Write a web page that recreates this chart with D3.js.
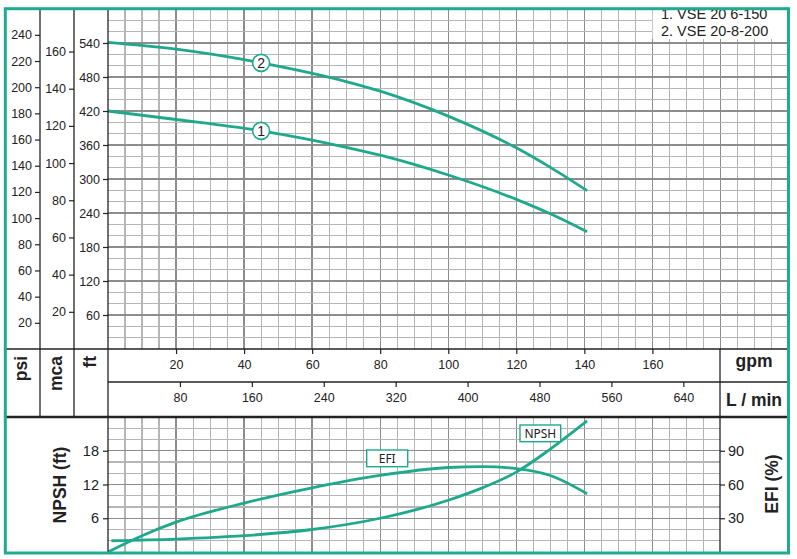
<!DOCTYPE html>
<meta charset="utf-8">
<style>
  body { margin: 0; background: #fff; }
  svg text { font-family: "Liberation Sans", Arial, sans-serif; fill: #222; }
  .axis path { display: none; }
  .axis line { stroke: #222; stroke-width: 1.2; }
  .col-line { stroke: #222; stroke-width: 1.3; }
  .grid-minor { stroke: #b5b5b5; stroke-width: 1.1; shape-rendering: crispEdges; }
  .grid-major { stroke: #8d8d8d; stroke-width: 1.4; shape-rendering: crispEdges; }
  .curve { fill: none; stroke: #1fa98c; stroke-width: 2.8; }
  .unit { font-weight: bold; font-size: 17.5px; }
  .tag text { font-family: "Noto Sans", sans-serif; font-size: 12px; }
</style>

<div class="chart"></div>

<script src="https://cdn.jsdelivr.net/npm/d3@7"></script>

<script>
    // head curves (gpm -> ft)
    var headFlow = [0, 20, 45, 70, 80, 100, 120, 130, 140.8];
    var head1 = [420, 405, 385, 356, 342, 307, 264, 238.5, 207];
    var head2 = [541, 529, 505, 472, 455, 411, 355, 320.5, 279.5];

    // efficiency (%) and NPSH (ft)
    var efiFlow = [0, 10, 20, 40, 60, 80, 100, 110, 120, 130, 140.8];
    var efiValues = [0, 14.5, 26.5, 43.5, 57.1, 68.1, 75.1, 75.9, 74.2, 68, 51.8];
    var npshFlow = [1, 20, 40, 60, 80, 100, 110, 120, 130, 140.8];
    var npshValues = [2.0, 2.3, 2.9, 4.0, 6.0, 9.2, 11.4, 14.2, 18.3, 23.3];

    // tick labels
    var psiTicks = [20, 40, 60, 80, 100, 120, 140, 160, 180, 200, 220, 240];
    var mcaTicks = [20, 40, 60, 80, 100, 120, 140, 160];
    var ftTicks = [60, 120, 180, 240, 300, 360, 420, 480, 540];
    var gpmTicks = [20, 40, 60, 80, 100, 120, 140, 160];
    var lpmTicks = [80, 160, 240, 320, 400, 480, 560, 640];
    var npshTicks = [6, 12, 18];
    var efiTicks = [30, 60, 90];
    var models = ["1. VSE 20 6-150", "2. VSE 20-8-200"];

    var width = 797, height = 559;
    var xLeft = 5.3, xRight = 788.5, yTop = 8.7, yBottom = 553;
    var plotX = 108, gpmCol = 720;
    var headBottom = 349, gpmRow = 382, lpmRow = 417, npshBottom = 552;

    var svg = d3.select('.chart')
        .append('svg')
        .attr('width', width)
        .attr('height', height);

    var x = d3.scaleLinear().domain([0, 200]).range([plotX, xRight]);
    var xL = d3.scaleLinear().domain([0, 200 * 3.785]).range([plotX, xRight]);
    var yFt = d3.scaleLinear().domain([0, 600]).range([headBottom, 9]);
    var yPsi = d3.scaleLinear().domain([0, 600 / 2.31]).range([headBottom, 9]);
    var yMca = d3.scaleLinear().domain([0, 600 / 3.281]).range([headBottom, 9]);
    var yNpsh = d3.scaleLinear().domain([0, 24]).range([npshBottom, lpmRow]);
    var yEfi = d3.scaleLinear().domain([0, 120]).range([npshBottom, lpmRow]);

    // grid top
    var grid = svg.append('g');
    d3.range(5, 200, 5).forEach((g) => {
        grid.append('line')
            .attr('class', g % 20 == 0 ? 'grid-major' : 'grid-minor')
            .attr('x1', x(g)).attr('x2', x(g))
            .attr('y1', yTop).attr('y2', headBottom);
    });
    d3.range(20, 600, 20).forEach((f) => {
        grid.append('line')
            .attr('class', f % 60 == 0 ? 'grid-major' : 'grid-minor')
            .attr('x1', plotX).attr('x2', xRight)
            .attr('y1', yFt(f)).attr('y2', yFt(f));
    });
    // grid bottom
    d3.range(5, 180, 5).forEach((g) => {
        grid.append('line')
            .attr('class', g % 20 == 0 ? 'grid-major' : 'grid-minor')
            .attr('x1', x(g)).attr('x2', x(g))
            .attr('y1', lpmRow).attr('y2', npshBottom);
    });
    d3.range(2, 24, 2).forEach((n) => {
        grid.append('line')
            .attr('class', n % 6 == 0 ? 'grid-major' : 'grid-minor')
            .attr('x1', plotX).attr('x2', gpmCol)
            .attr('y1', yNpsh(n)).attr('y2', yNpsh(n));
    });

    // legend box
    svg.append('rect')
        .attr('x', 652.5).attr('y', yTop)
        .attr('width', xRight - 652.5).attr('height', 39 - yTop)
        .attr('fill', '#fff');
    svg.append('g').selectAll('text')
        .data(models)
        .enter().append('text')
        .attr('x', 661)
        .attr('y', (d, i) => 18.5 + i * 17.5)
        .attr('font-size', '14.5px')
        .text((d) => d);

    // curves
    var drawCurve = (xs, ys, yScale) => {
        svg.append('path').attr('class', 'curve')
            .attr('d', d3.line()
                .x((d, i) => x(xs[i]))
                .y((d) => yScale(d))
                .curve(d3.curveMonotoneX)(ys));
    };
    drawCurve(headFlow, head1, yFt);
    drawCurve(headFlow, head2, yFt);
    drawCurve(efiFlow, efiValues, yEfi);
    drawCurve(npshFlow, npshValues, yNpsh);

    // curve markers
    var markers = [{ name: "1", vals: head1 }, { name: "2", vals: head2 }];
    markers.forEach((m) => {
        var g = svg.append('g').attr('transform', 'translate(' + x(headFlow[2]) + ',' + yFt(m.vals[2]) + ')');
        g.append('circle').attr('r', 8.5).attr('fill', '#fff')
            .attr('stroke', '#1fa98c').attr('stroke-width', 1.6);
        g.append('text').attr('text-anchor', 'middle').attr('dy', '0.36em')
            .attr('font-size', '14px').text(m.name);
    });

    var tags = [{ name: "EFI", x: 366.7, y: 450, w: 41 }, { name: "NPSH", x: 520, y: 425, w: 40.7 }];
    tags.forEach((t) => {
        var g = svg.append('g').attr('class', 'tag');
        g.append('rect').attr('x', t.x).attr('y', t.y)
            .attr('width', t.w).attr('height', 16.7)
            .attr('fill', '#fff').attr('stroke', '#1fa98c').attr('stroke-width', 1.4);
        g.append('text').attr('x', t.x + t.w / 2).attr('y', t.y + 12.8)
            .attr('text-anchor', 'middle').text(t.name);
    });

    // left axes
    var leftAxis = (scale, ticks, pos) => {
        svg.append('g')
            .attr('class', 'axis')
            .attr('transform', 'translate(' + pos + ',0)')
            .call(d3.axisLeft(scale).tickValues(ticks).tickSize(5).tickSizeOuter(0).tickPadding(3))
            .selectAll('text')
            .attr('font-size', '12.5px')
            .attr('fill', '#222');
    };
    leftAxis(yPsi, psiTicks, 40);
    leftAxis(yMca, mcaTicks, 74);
    leftAxis(yFt, ftTicks, plotX);

    // flow axes
    svg.append('g')
        .attr('class', 'axis')
        .attr('transform', 'translate(0,' + headBottom + ')')
        .call(d3.axisBottom(x).tickValues(gpmTicks).tickSize(5).tickSizeOuter(0).tickPadding(6))
        .selectAll('text')
        .attr('font-size', '12.5px')
        .attr('fill', '#222');
    svg.append('g')
        .attr('class', 'axis')
        .attr('transform', 'translate(0,' + gpmRow + ')')
        .call(d3.axisBottom(xL).tickValues(lpmTicks).tickSize(5).tickSizeOuter(0).tickPadding(6))
        .selectAll('text')
        .attr('font-size', '12.5px')
        .attr('fill', '#222');

    // bottom axes
    svg.append('g')
        .attr('class', 'axis')
        .attr('transform', 'translate(' + plotX + ',0)')
        .call(d3.axisLeft(yNpsh).tickValues(npshTicks).tickSize(5).tickSizeOuter(0).tickPadding(4))
        .selectAll('text')
        .attr('font-size', '14.5px')
        .attr('fill', '#222');
    svg.append('g')
        .attr('class', 'axis')
        .attr('transform', 'translate(' + gpmCol + ',0)')
        .call(d3.axisRight(yEfi).tickValues(efiTicks).tickSize(5).tickSizeOuter(0).tickPadding(3))
        .selectAll('text')
        .attr('font-size', '14.5px')
        .attr('fill', '#222');

    // table lines
    var lines = [
        [40, yTop, 40, lpmRow], [74, yTop, 74, lpmRow], [plotX, yTop, plotX, npshBottom],
        [gpmCol, headBottom, gpmCol, npshBottom],
        [xLeft, headBottom, xRight, headBottom], [plotX, gpmRow, xRight, gpmRow]
    ];
    lines.forEach((l) => {
        svg.append('line').attr('class', 'col-line')
            .attr('x1', l[0]).attr('y1', l[1]).attr('x2', l[2]).attr('y2', l[3]);
    });
    svg.append('line')
        .attr('x1', xLeft).attr('x2', xRight)
        .attr('y1', lpmRow).attr('y2', lpmRow)
        .attr('stroke', '#222').attr('stroke-width', 2.6);

    // unit labels
    var units = [{ t: "psi", x: 27 }, { t: "mca", x: 61.5 }, { t: "ft", x: 96 }];
    units.forEach((u) => {
        svg.append('text').attr('class', 'unit')
            .attr('transform', 'translate(' + u.x + ',356) rotate(-90)')
            .attr('text-anchor', 'end').text(u.t);
    });
    svg.append('text').attr('class', 'unit')
        .attr('x', 754).attr('y', 367).attr('text-anchor', 'middle').text('gpm');
    svg.append('text').attr('class', 'unit')
        .attr('x', 754).attr('y', 406).attr('text-anchor', 'middle').text('L / min');
    svg.append('text').attr('class', 'unit')
        .attr('transform', 'translate(66,485) rotate(-90)')
        .attr('text-anchor', 'middle').text('NPSH (ft)');
    svg.append('text').attr('class', 'unit')
        .attr('transform', 'translate(778,484) rotate(-90)')
        .attr('text-anchor', 'middle').text('EFI (%)');

    // frame
    svg.append('rect')
        .attr('x', xLeft).attr('y', yTop)
        .attr('width', xRight - xLeft).attr('height', yBottom - yTop)
        .attr('fill', 'none')
        .attr('stroke', '#1fab8e')
        .attr('stroke-width', 3);
</script>
